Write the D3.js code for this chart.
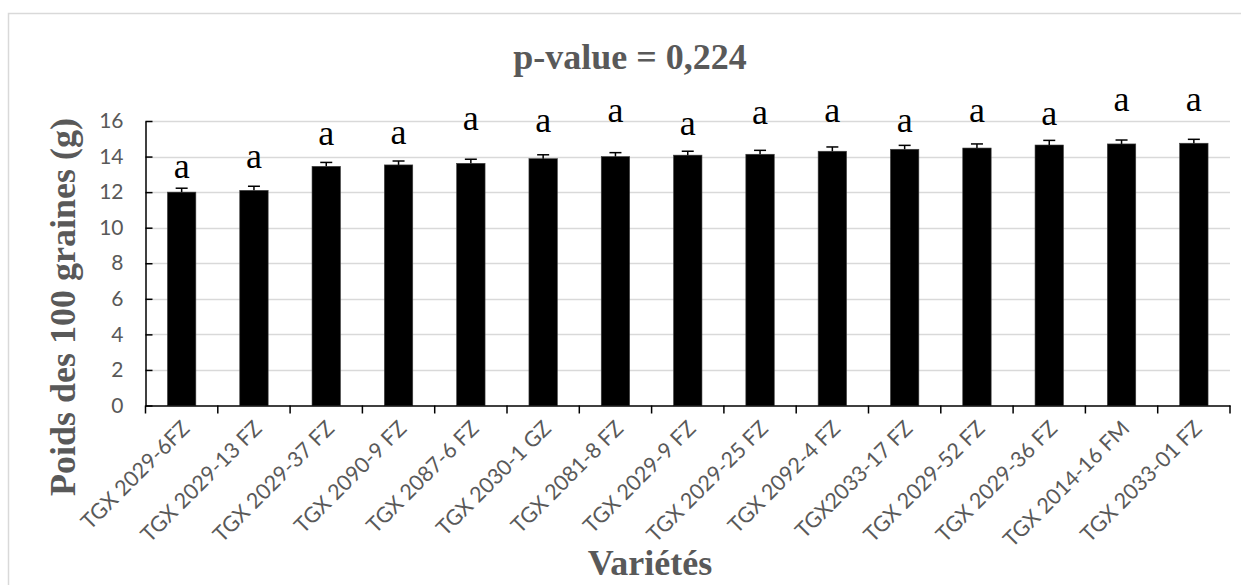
<!DOCTYPE html>
<html><head><meta charset="utf-8">
<script src="https://cdn.jsdelivr.net/npm/d3@7"></script>
<style>body{margin:0;background:#fff}svg{display:block}</style>
</head><body>
<script>
const categories = ["TGX 2029-6FZ","TGX 2029-13 FZ","TGX 2029-37 FZ","TGX 2090-9 FZ","TGX 2087-6 FZ","TGX 2030-1 GZ","TGX 2081-8 FZ","TGX 2029-9 FZ","TGX 2029-25 FZ","TGX 2092-4 FZ","TGX2033-17 FZ","TGX 2029-52 FZ","TGX 2029-36 FZ","TGX 2014-16 FM","TGX 2033-01 FZ"];
const values = [12.0, 12.1, 13.45, 13.53, 13.62, 13.88, 14.0, 14.08, 14.13, 14.3, 14.41, 14.48, 14.65, 14.71, 14.75];
const errors = [0.22, 0.23, 0.22, 0.22, 0.23, 0.22, 0.22, 0.22, 0.22, 0.24, 0.22, 0.23, 0.26, 0.22, 0.22];
const letters = ["a","a","a","a","a","a","a","a","a","a","a","a","a","a","a"];
const letterLevels = [12.77, 13.34, 14.63, 14.68, 15.47, 15.36, 15.92, 15.19, 15.81, 15.92, 15.36, 15.97, 15.75, 16.59, 16.59];
const yTicks = [0, 2, 4, 6, 8, 10, 12, 14, 16];
const title = "p-value = 0,224";
const yTitle = "Poids des 100 graines (g)";
const xTitle = "Variétés";

const W = 1241, H = 585;
const svg = d3.select("body").append("svg").attr("width", W).attr("height", H);
svg.append("rect").attr("x", 8.5).attr("y", 13.5).attr("width", W).attr("height", H)
  .attr("fill", "#fff").attr("stroke", "#d9d9d9").attr("stroke-width", 1.5);

const m = {left: 145.5, right: 1230, top: 121, bottom: 405.5};
const x = d3.scaleBand().domain(categories).range([m.left, m.right]).paddingInner(0.607).paddingOuter(0.3035);
const xb = d3.scaleBand().domain(categories).range([m.left, m.right]);
const y = d3.scaleLinear().domain([0, 16]).range([m.bottom, m.top]);

// gridlines
svg.append("g").selectAll("line").data(yTicks.filter(d => d > 0)).join("line")
  .attr("x1", m.left).attr("x2", m.right).attr("y1", d => Math.round(y(d)) + 0.5).attr("y2", d => Math.round(y(d)) + 0.5)
  .attr("stroke", "#d9d9d9").attr("stroke-width", 1.5);

// bars
svg.append("g").selectAll("rect").data(values).join("rect")
  .attr("x", (d, i) => x(categories[i])).attr("width", x.bandwidth())
  .attr("y", d => y(d)).attr("height", d => y(0) - y(d))
  .attr("fill", "#000").attr("stroke", "#404040").attr("stroke-width", 0.6);

// error bars
const eb = svg.append("g").attr("stroke", "#000").attr("stroke-width", 1.5);
values.forEach((v, i) => {
  const cx = x(categories[i]) + x.bandwidth() / 2;
  eb.append("line").attr("x1", cx).attr("x2", cx).attr("y1", y(v)).attr("y2", y(v + errors[i]));
  eb.append("line").attr("x1", cx - 6).attr("x2", cx + 6).attr("y1", y(v + errors[i])).attr("y2", y(v + errors[i]));
});

// letters
svg.append("g").selectAll("text").data(letters).join("text")
  .attr("x", (d, i) => x(categories[i]) + x.bandwidth() / 2)
  .attr("y", (d, i) => y(letterLevels[i]))
  .attr("text-anchor", "middle")
  .style("font-family", "'Liberation Serif', 'Times New Roman', serif")
  .style("font-size", "36px").attr("fill", "#000").text(d => d);

// y axis
const yAxis = d3.axisLeft(y).tickValues(yTicks).tickSizeInner(-7).tickSizeOuter(0).tickPadding(22);
const gy = svg.append("g").attr("transform", `translate(${m.left},0)`).call(yAxis);
gy.select(".domain").attr("stroke", "#000").attr("stroke-width", 1.5);
gy.selectAll(".tick line").attr("stroke", "#000").attr("stroke-width", 1.5);
gy.selectAll(".tick text").attr("fill", "#595959")
  .style("font-family", "Lato, 'Liberation Sans', sans-serif").style("font-size", "21px");

// x axis
const xAxis = d3.axisBottom(xb).tickSize(0).tickFormat(() => "");
const gx = svg.append("g").attr("transform", `translate(0,${m.bottom})`).call(xAxis);
gx.select(".domain").attr("stroke", "#000").attr("stroke-width", 1.5);
const boundaries = categories.map(c => xb(c)).concat([m.right]);
gx.selectAll(".bt").data(boundaries).join("line").attr("class", "bt")
  .attr("x1", d => d).attr("x2", d => d).attr("y1", 0).attr("y2", 8)
  .attr("stroke", "#000").attr("stroke-width", 1.5);

// x labels rotated
svg.append("g").selectAll("text").data(categories).join("text")
  .attr("transform", c => `translate(${xb(c) + xb.bandwidth() / 2 + 4},${m.bottom + 19}) rotate(-45)`)
  .attr("text-anchor", "end")
  .attr("dy", "0.35em")
  .attr("fill", "#595959")
  .style("font-family", "Lato, 'Liberation Sans', sans-serif").style("font-size", "21.5px")
  .text(d => d);

// titles
const serifBold = "'Liberation Serif', 'Times New Roman', serif";
svg.append("text").attr("x", 630).attr("y", 69).attr("text-anchor", "middle")
  .attr("fill", "#595959").style("font-family", serifBold).style("font-weight", "bold").style("font-size", "36px").text(title);
svg.append("text").attr("transform", "translate(75,307) rotate(-90)").attr("text-anchor", "middle")
  .attr("fill", "#595959").style("font-family", serifBold).style("font-weight", "bold").style("font-size", "36px").text(yTitle);
svg.append("text").attr("x", 650).attr("y", 575).attr("text-anchor", "middle")
  .attr("fill", "#595959").style("font-family", serifBold).style("font-weight", "bold").style("font-size", "36px").text(xTitle);
</script>
</body></html>
